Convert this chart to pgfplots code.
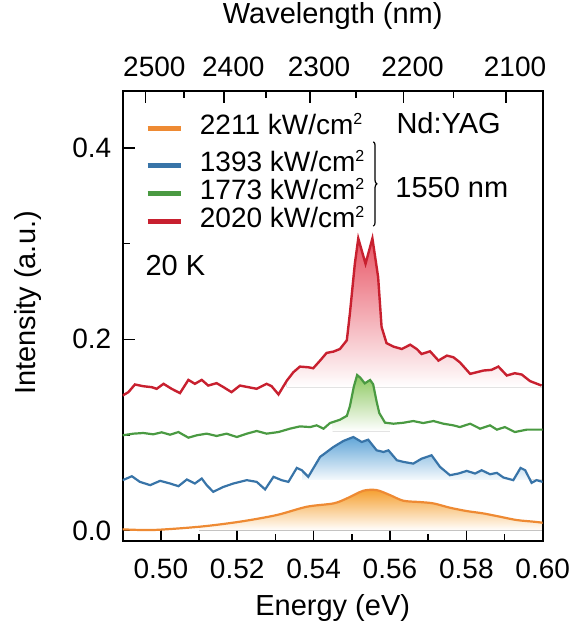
\documentclass[border=0pt]{standalone}
\usepackage{fontspec}
\setmainfont{Liberation Sans}
\usepackage{pgfplots}
\pgfplotsset{compat=1.18}
\usepgfplotslibrary{fillbetween}
\usetikzlibrary{decorations.pathreplacing}

\definecolor{cOr}{HTML}{EE8A33}
\definecolor{cBl}{HTML}{3874A8}
\definecolor{cGr}{HTML}{4A9A42}
\definecolor{cRd}{HTML}{C8202F}
\definecolor{fOr}{HTML}{F5A030}
\definecolor{fBl}{HTML}{62A6D8}
\definecolor{fGr}{HTML}{8CC860}
\definecolor{fRd}{HTML}{E85565}
\newcommand{\sq}{\raisebox{0.34em}{\fontsize{16bp}{16bp}\selectfont 2}}

\pgfplotstableread{
E I
0.4900 0.0014
0.4980 0.0007
0.5103 0.0042
0.5207 0.0094
0.5303 0.0163
0.5382 0.0250
0.5452 0.0285
0.5487 0.0337
0.5530 0.0417
0.5565 0.0424
0.5600 0.0372
0.5635 0.0313
0.5679 0.0299
0.5714 0.0285
0.5757 0.0240
0.5801 0.0205
0.5845 0.0180
0.5888 0.0146
0.5932 0.0111
0.5976 0.0094
0.6000 0.0083
}\orange

\pgfplotstableread{
E I
0.4900 0.0528
0.4924 0.0569
0.4945 0.0510
0.4972 0.0476
0.4998 0.0521
0.5024 0.0493
0.5046 0.0465
0.5068 0.0535
0.5089 0.0493
0.5107 0.0545
0.5120 0.0476
0.5137 0.0406
0.5164 0.0458
0.5190 0.0493
0.5225 0.0528
0.5251 0.0510
0.5273 0.0431
0.5295 0.0563
0.5316 0.0528
0.5334 0.0510
0.5356 0.0656
0.5369 0.0632
0.5386 0.0563
0.5417 0.0771
0.5452 0.0875
0.5478 0.0938
0.5504 0.0979
0.5526 0.0927
0.5543 0.0951
0.5565 0.0840
0.5583 0.0823
0.5596 0.0840
0.5618 0.0736
0.5635 0.0719
0.5661 0.0701
0.5683 0.0753
0.5709 0.0788
0.5731 0.0667
0.5757 0.0580
0.5779 0.0597
0.5801 0.0625
0.5823 0.0597
0.5840 0.0632
0.5862 0.0590
0.5880 0.0604
0.5897 0.0556
0.5923 0.0528
0.5942 0.0656
0.5954 0.0632
0.5971 0.0500
0.5984 0.0528
0.6000 0.0510
}\blue

\pgfplotstableread{
E I
0.4900 0.0997
0.4928 0.1014
0.4954 0.1021
0.4980 0.1007
0.5002 0.1028
0.5024 0.1003
0.5046 0.1031
0.5072 0.0972
0.5094 0.0997
0.5120 0.1014
0.5146 0.0990
0.5172 0.1014
0.5199 0.0979
0.5225 0.1014
0.5251 0.1042
0.5277 0.1014
0.5308 0.1031
0.5338 0.1066
0.5364 0.1090
0.5391 0.1083
0.5408 0.1101
0.5426 0.1066
0.5443 0.1125
0.5469 0.1160
0.5487 0.1200
0.5495 0.1300
0.5505 0.1500
0.5514 0.1627
0.5522 0.1600
0.5534 0.1540
0.5548 0.1575
0.5556 0.1530
0.5565 0.1350
0.5572 0.1230
0.5587 0.1129
0.5609 0.1118
0.5635 0.1128
0.5661 0.1146
0.5687 0.1125
0.5714 0.1146
0.5740 0.1118
0.5766 0.1101
0.5783 0.1083
0.5810 0.1118
0.5836 0.1066
0.5862 0.1101
0.5880 0.1056
0.5901 0.1083
0.5927 0.1031
0.5958 0.1056
0.6000 0.1056
}\green

\pgfplotstableread{
E I
0.4900 0.1413
0.4915 0.1448
0.4932 0.1528
0.4954 0.1510
0.4976 0.1500
0.4989 0.1483
0.5007 0.1535
0.5028 0.1483
0.5050 0.1438
0.5072 0.1576
0.5089 0.1535
0.5107 0.1576
0.5124 0.1517
0.5146 0.1542
0.5164 0.1500
0.5185 0.1448
0.5207 0.1517
0.5229 0.1500
0.5251 0.1483
0.5277 0.1535
0.5290 0.1510
0.5308 0.1424
0.5330 0.1569
0.5347 0.1656
0.5364 0.1715
0.5386 0.1708
0.5399 0.1698
0.5417 0.1778
0.5434 0.1858
0.5452 0.1872
0.5469 0.1899
0.5487 0.1990
0.5495 0.2270
0.5508 0.2790
0.5517 0.3055
0.5536 0.2790
0.5554 0.3055
0.5569 0.2650
0.5578 0.2130
0.5591 0.1960
0.5609 0.1924
0.5631 0.1899
0.5653 0.1944
0.5670 0.1899
0.5683 0.1847
0.5705 0.1875
0.5727 0.1778
0.5749 0.1830
0.5766 0.1813
0.5783 0.1760
0.5810 0.1639
0.5827 0.1656
0.5845 0.1674
0.5866 0.1681
0.5884 0.1715
0.5906 0.1622
0.5927 0.1646
0.5945 0.1632
0.5967 0.1563
0.5997 0.1517
}\red

\pgfplotsset{
  mylegend/.style={
    legend image code/.code={\draw[##1, line width=5.5bp] (0bp,0bp) -- (33bp,0bp);},
    legend style={draw=none, fill=none,
      font=\fontsize{28bp}{32bp}\selectfont, row sep=0bp,
      nodes={inner sep=0bp, text height=20bp, text depth=8bp},
      /tikz/every odd column/.append style={column sep=16.5bp},
      cells={anchor=west}},
  },
}

\begin{document}
\begin{tikzpicture}
\begin{axis}[
  set layers,
  scale only axis, width=420bp, height=450bp,
  xmin=0.49, xmax=0.60, ymin=-0.0108, ymax=0.4596,
  xtick={0.50,0.52,0.54,0.56,0.58,0.60},
  minor xtick={0.49,0.51,0.53,0.55,0.57,0.59},
  ytick={0,0.2,0.4}, minor ytick={0.1,0.3},
  xtick pos=bottom, ytick pos=left,
  tick align=inside,
  major tick length=12.5bp, minor tick length=7bp,
  every tick/.style={black, line width=1.6bp},
  axis line style={line width=2bp},
  /pgf/number format/assume math mode=true,
  x tick label style={/pgf/number format/fixed, /pgf/number format/fixed zerofill, /pgf/number format/precision=2, yshift=-14bp},
  y tick label style={/pgf/number format/fixed, /pgf/number format/fixed zerofill, /pgf/number format/precision=1, xshift=-8bp},
  tick label style={font=\fontsize{28bp}{32bp}\selectfont},
  label style={font=\fontsize{29bp}{34bp}\selectfont},
  xlabel={Energy (eV)}, ylabel={Intensity (a.u.)},
  xlabel style={at={(axis description cs:0.5,-0.149)}, anchor=center},
  ylabel style={at={(axis description cs:-0.225,0.529)}, anchor=center},
  mylegend,
  legend style={at={(rel axis cs:0.0452,0.8707)}, anchor=north west},
]
\addplot[name path=Or, cOr, line width=2.2bp, smooth, tension=0.5, forget plot] table[x=E,y=I] {\orange};
\addplot[name path=Bl, cBl, line width=2.2bp] table[x=E,y=I] {\blue};
\addlegendentry{1393 kW/cm\sq}
\addplot[name path=Gr, cGr, line width=2.2bp] table[x=E,y=I] {\green};
\addlegendentry{1773 kW/cm\sq}
\addplot[name path=Rd, cRd, line width=2.4bp] table[x=E,y=I] {\red};
\addlegendentry{2020 kW/cm\sq}

\addplot[name path=RdB, draw=none, forget plot] coordinates {(0.49,0.150) (0.60,0.150)};
\addplot[name path=GrB, draw=none, forget plot] coordinates {(0.49,0.104) (0.60,0.104)};
\addplot[name path=BlB, draw=none, forget plot] coordinates {(0.49,0.053) (0.60,0.053)};
\addplot[name path=OrB, draw=none, forget plot] coordinates {(0.49,0.000) (0.60,0.000)};

\addplot[forget plot, draw=none, top color=fRd, bottom color=white] fill between[of=Rd and RdB, soft clip={domain=0.533:0.60}];
\addplot[forget plot, draw=none, top color=fGr, bottom color=white] fill between[of=Gr and GrB, soft clip={domain=0.545:0.560}];
\addplot[forget plot, draw=none, top color=fBl, bottom color=white] fill between[of=Bl and BlB, soft clip={domain=0.537:0.60}];
\addplot[forget plot, draw=none, top color=fOr, bottom color=white] fill between[of=Or and OrB, soft clip={domain=0.51:0.60}];

\node[anchor=west, font=\fontsize{29bp}{34bp}\selectfont] at (rel axis cs:0.6436,0.929) {Nd:YAG};
\node[anchor=west, font=\fontsize{29bp}{34bp}\selectfont] at (rel axis cs:0.641,0.785) {1550 nm};
\node[anchor=west, font=\fontsize{29bp}{34bp}\selectfont] at (rel axis cs:0.046,0.613) {20 K};
\draw[line width=1.2bp, decorate, decoration={brace, amplitude=3.5bp}] (rel axis cs:0.5967,0.8873) -- (rel axis cs:0.5967,0.6998);
\end{axis}
\begin{axis}[
  scale only axis, width=420bp, height=450bp,
  xmin=0.49, xmax=0.60, ymin=0, ymax=1,
  hide y axis, axis x line*=top,
  axis line style={line width=2bp},
  tick align=inside,
  major tick length=12.5bp, minor tick length=7bp,
  every tick/.style={black, line width=1.6bp},
  xtick={0.49594,0.51660,0.53906,0.56356,0.59040},
  xticklabels={2500,2400,2300,2200,2100},
  minor xtick={0.50606,0.52759,0.55104,0.57667},
  tick label style={font=\fontsize{28bp}{32bp}\selectfont},
  xticklabel style={yshift=11bp, xshift=9bp},
  label style={font=\fontsize{29bp}{34bp}\selectfont},
  xlabel={Wavelength (nm)},
  xlabel style={at={(axis description cs:0.5,1.0)}, anchor=center, yshift=75bp},
  mylegend,
  legend style={at={(rel axis cs:0.0452,0.9527)}, anchor=north west},
]
\addlegendimage{cOr}
\addlegendentry{2211 kW/cm\sq}
\end{axis}
\pgfresetboundingbox
\path ([shift={(-122.7bp,-86bp)}]current axis.south west) rectangle ([shift={(30.3bp,91bp)}]current axis.north east);
\end{tikzpicture}
\end{document}
